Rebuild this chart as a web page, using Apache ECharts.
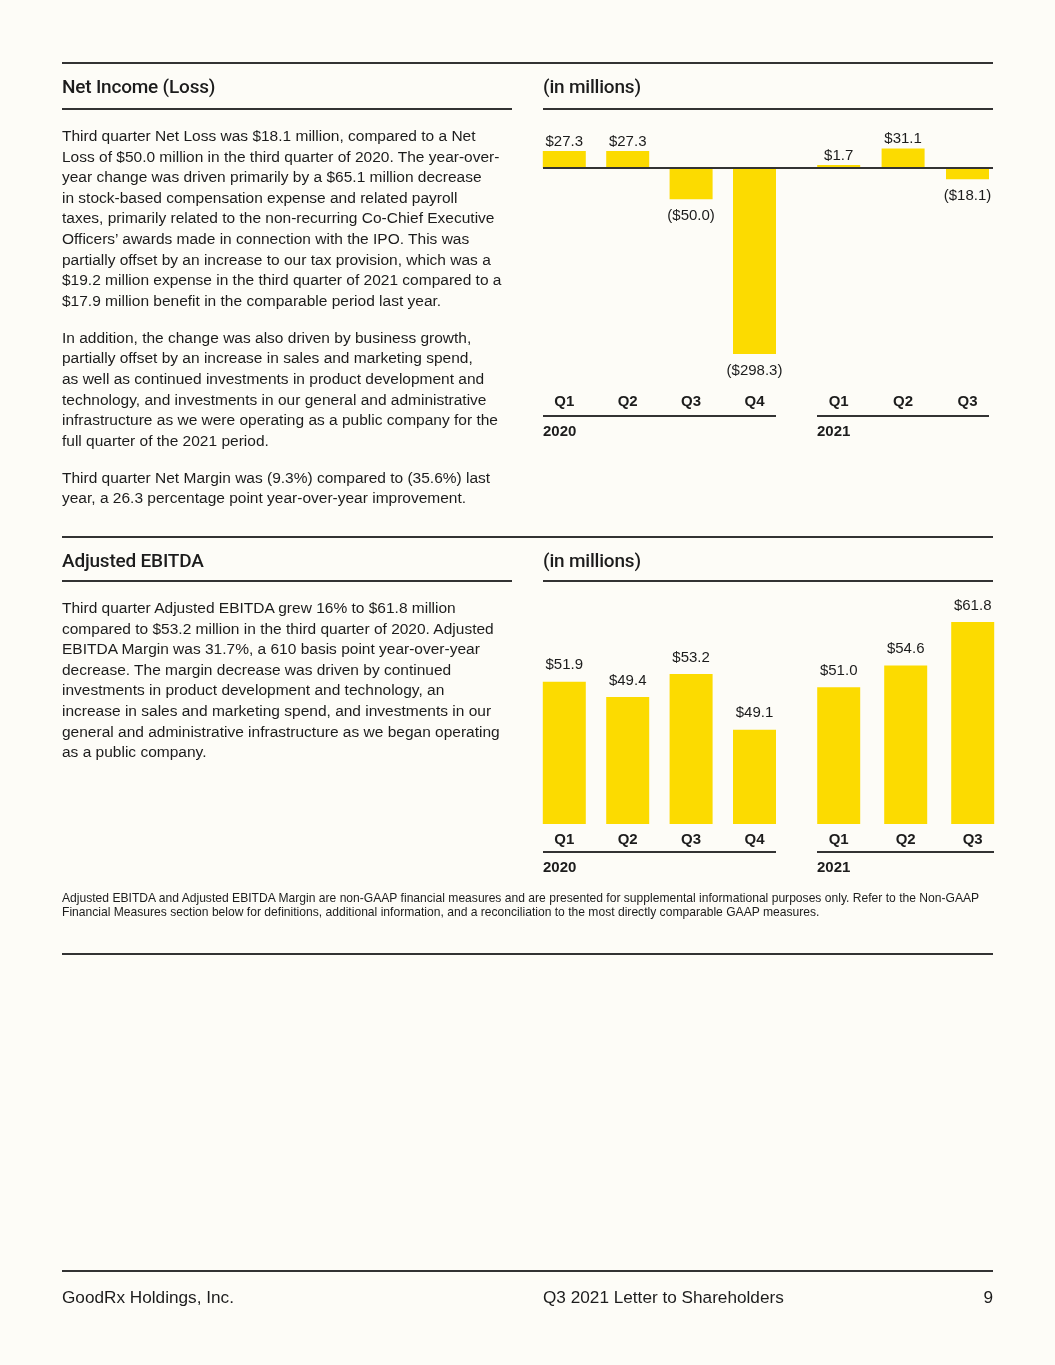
<!DOCTYPE html>
<html>
<head>
<meta charset="utf-8">
<script src="https://cdn.jsdelivr.net/npm/echarts@6/dist/echarts.min.js"></script>
<style>
  html, body { margin: 0; padding: 0; background: #fdfcf7; }
  body { width: 1055px; height: 1365px; position: relative; overflow: hidden;
         font-family: "Liberation Sans", Arial, sans-serif; color: #1c1c1c; }
  #chart { position: absolute; left: 0; top: 0; width: 1055px; height: 1365px; }
  .abs { position: absolute; white-space: nowrap; }
  .rule { position: absolute; height: 0; border-top: 2px solid #333; }
  .head { font-family: Roboto, "Liberation Sans", sans-serif; font-size: 19px; line-height: 22px; font-weight: 500; letter-spacing: -0.2px; }
  .body { font-size: 15.5px; line-height: 20.6px; }
  .body p { margin: 0 0 16.4px 0; }
  .year { font-size: 15px; font-weight: bold; line-height: 18px; }
  .note { font-size: 12.1px; line-height: 13.5px; }
  .foot { font-size: 17.2px; line-height: 22px; }
</style>
</head>
<body>
<div id="chart"></div>

<div class="rule" style="left:62px;top:62px;width:931px"></div>
<div class="abs head" style="left:62px;top:76px">Net Income (Loss)</div>
<div class="abs head" style="left:543px;top:76px">(in millions)</div>
<div class="rule" style="left:62px;top:108px;width:450px"></div>
<div class="rule" style="left:543px;top:108px;width:450px"></div>

<div class="abs body" style="left:62px;top:126px">
<p>Third quarter Net Loss was $18.1 million, compared to a Net<br>
Loss of $50.0 million in the third quarter of 2020. The year-over-<br>
year change was driven primarily by a $65.1 million decrease<br>
in stock-based compensation expense and related payroll<br>
taxes, primarily related to the non-recurring Co-Chief Executive<br>
Officers’ awards made in connection with the IPO. This was<br>
partially offset by an increase to our tax provision, which was a<br>
$19.2 million expense in the third quarter of 2021 compared to a<br>
$17.9 million benefit in the comparable period last year.</p>
<p>In addition, the change was also driven by business growth,<br>
partially offset by an increase in sales and marketing spend,<br>
as well as continued investments in product development and<br>
technology, and investments in our general and administrative<br>
infrastructure as we were operating as a public company for the<br>
full quarter of the 2021 period.</p>
<p>Third quarter Net Margin was (9.3%) compared to (35.6%) last<br>
year, a 26.3 percentage point year-over-year improvement.</p>
</div>

<div class="rule" style="left:543px;top:415px;width:233px"></div>
<div class="rule" style="left:817px;top:415px;width:172px"></div>
<div class="abs year" style="left:543px;top:422px">2020</div>
<div class="abs year" style="left:817px;top:422px">2021</div>

<div class="rule" style="left:62px;top:536px;width:931px"></div>
<div class="abs head" style="left:62px;top:550px">Adjusted EBITDA</div>
<div class="abs head" style="left:543px;top:550px">(in millions)</div>
<div class="rule" style="left:62px;top:580px;width:450px"></div>
<div class="rule" style="left:543px;top:580px;width:450px"></div>

<div class="abs body" style="left:62px;top:598px">
<p>Third quarter Adjusted EBITDA grew 16% to $61.8 million<br>
compared to $53.2 million in the third quarter of 2020. Adjusted<br>
EBITDA Margin was 31.7%, a 610 basis point year-over-year<br>
decrease. The margin decrease was driven by continued<br>
investments in product development and technology, an<br>
increase in sales and marketing spend, and investments in our<br>
general and administrative infrastructure as we began operating<br>
as a public company.</p>
</div>

<div class="rule" style="left:543px;top:851px;width:233px"></div>
<div class="rule" style="left:817px;top:851px;width:177px"></div>
<div class="abs year" style="left:543px;top:858px">2020</div>
<div class="abs year" style="left:817px;top:858px">2021</div>

<div class="abs note" style="left:62px;top:892px">Adjusted EBITDA and Adjusted EBITDA Margin are non-GAAP financial measures and are presented for supplemental informational purposes only. Refer to the Non-GAAP<br>
Financial Measures section below for definitions, additional information, and a reconciliation to the most directly comparable GAAP measures.</div>

<div class="rule" style="left:62px;top:953px;width:931px"></div>

<div class="rule" style="left:62px;top:1270px;width:931px"></div>
<div class="abs foot" style="left:62px;top:1286px">GoodRx Holdings, Inc.</div>
<div class="abs foot" style="left:543px;top:1286px">Q3 2021 Letter to Shareholders</div>
<div class="abs foot" style="left:963px;top:1286px;width:30px;text-align:right">9</div>

<script>
// quarters shown under each year group
const quarters2020 = ['Q1', 'Q2', 'Q3', 'Q4']
const quarters2021 = ['Q1', 'Q2', 'Q3']

// net income (loss), $M
const netIncome2020 = [27.3, 27.3, -50.0, -298.3]
const netIncome2021 = [1.7, 31.1, -18.1]

// adjusted EBITDA, $M (printed labels)
const ebitda2020 = [51.9, 49.4, 53.2, 49.1]
const ebitda2021 = [51.0, 54.6, 61.8]
// bar heights as drawn in the source (its Q4 2020 bar is drawn shorter than its label)
const ebitdaBar2020 = [51.9, 49.4, 53.2, 44.0]
const ebitdaBar2021 = [51.0, 54.6, 61.8]

const YELLOW = '#fcdb00'
const TEXT = '#1c1c1c'
const FONT = '"Liberation Sans", Arial, sans-serif'

function money(v) {
  return v < 0 ? '($' + Math.abs(v).toFixed(1) + ')' : '$' + v.toFixed(1)
}

function barData(heights, labels, upDist) {
  return heights.map((h, i) => ({
    value: h,
    label: {
      position: h < 0 ? 'bottom' : 'top',
      distance: h < 0 ? 9 : upDist,
      formatter: money(labels[i]),
    },
  }))
}

function xAx(idx, cats, margin) {
  return {
    type: 'category', gridIndex: idx, data: cats,
    axisLine: { show: false, onZero: false }, axisTick: { show: false },
    axisLabel: { color: TEXT, fontSize: 15, fontWeight: 'bold', fontFamily: FONT, margin },
  }
}
function yAx(idx, min, max) {
  return { type: 'value', gridIndex: idx, min, max, show: false, splitLine: { show: false } }
}
function bars(idx, data) {
  return {
    type: 'bar', xAxisIndex: idx, yAxisIndex: idx, barWidth: 43, barMinHeight: 3, data,
    itemStyle: { color: YELLOW },
    label: { show: true, color: TEXT, fontSize: 15, fontFamily: FONT },
    silent: true,
  }
}

const chart = echarts.init(document.getElementById('chart'))
chart.setOption({
  animation: false,
  grid: [
    { left: 532.6, top: 136.8, width: 253.6, height: 218.3 },
    { left: 806.5, top: 136.8, width: 193.2, height: 218.3 },
    { left: 532.6, top: 602.6, width: 253.6, height: 221.4 },
    { left: 805.2, top: 602.6, width: 201, height: 221.4 },
  ],
  xAxis: [
    xAx(0, quarters2020, 39),
    xAx(1, quarters2021, 39),
    xAx(2, quarters2020, 8),
    xAx(3, quarters2021, 8),
  ],
  yAxis: [
    yAx(0, -300, 50),
    yAx(1, -300, 50),
    yAx(2, 28.4, 65),
    yAx(3, 28.4, 65),
  ],
  series: [
    bars(0, barData(netIncome2020, netIncome2020, 2)),
    bars(1, barData(netIncome2021, netIncome2021, 2)),
    bars(2, barData(ebitdaBar2020, ebitda2020, 9)),
    bars(3, barData(ebitdaBar2021, ebitda2021, 9)),
  ],
})

// zero baseline of the net income panel, placed through the value scale
const zeroY = chart.convertToPixel({ yAxisIndex: 0 }, 0)
chart.setOption({
  graphic: [{
    type: 'line', z: 10,
    shape: { x1: 543, y1: zeroY, x2: 993, y2: zeroY },
    style: { stroke: '#333', lineWidth: 2 },
  }],
})
</script>
</body>
</html>
